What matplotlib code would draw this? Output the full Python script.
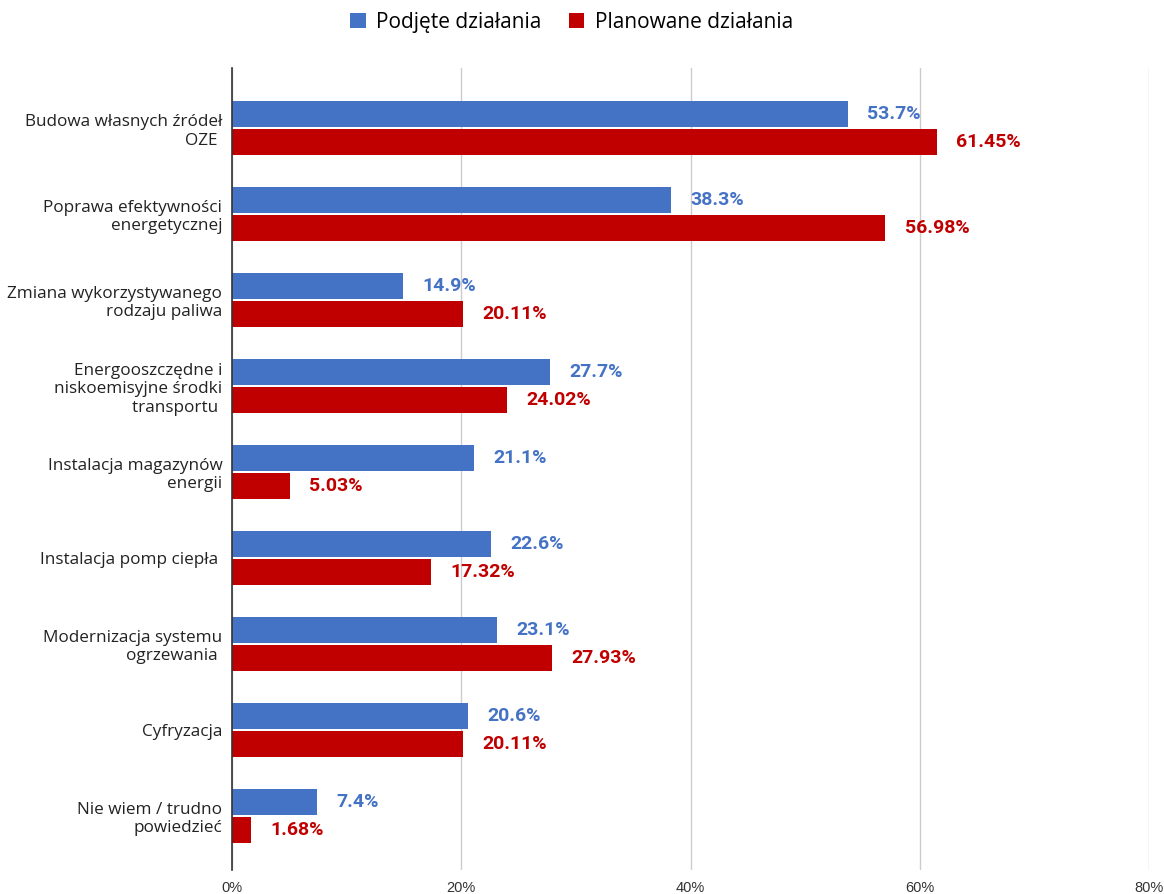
import numpy as np
import matplotlib.pyplot as plt
from matplotlib.ticker import FuncFormatter

categories = [
    "Budowa własnych źródeł\nOZE ",
    "Poprawa efektywności\nenergetycznej",
    "Zmiana wykorzystywanego\nrodzaju paliwa",
    "Energooszczędne i\nniskoemisyjne środki\ntransportu ",
    "Instalacja magazynów\nenergii",
    "Instalacja pomp ciepła ",
    "Modernizacja systemu\nogrzewania ",
    "Cyfryzacja",
    "Nie wiem / trudno\npowiedzieć",
]
podjete = [53.7, 38.3, 14.9, 27.7, 21.1, 22.6, 23.1, 20.6, 7.4]
planowane = [61.45, 56.98, 20.11, 24.02, 5.03, 17.32, 27.93, 20.11, 1.68]
podjete_txt = ["53.7%", "38.3%", "14.9%", "27.7%", "21.1%", "22.6%", "23.1%", "20.6%", "7.4%"]
planowane_txt = ["61.45%", "56.98%", "20.11%", "24.02%", "5.03%", "17.32%", "27.93%", "20.11%", "1.68%"]

blue = "#4472C4"
red = "#C00000"

fig = plt.figure(figsize=(11.64, 8.94), dpi=100)
ax = fig.add_axes([0.1993, 0.027, 0.788, 0.897])

y = np.arange(len(categories))
h = 0.30
ax.barh(y - h / 2 - 0.012, podjete, height=h, color=blue, label="Podjęte działania")
ax.barh(y + h / 2 + 0.012, planowane, height=h, color=red, label="Planowane działania")

for yi, v, t in zip(y, podjete, podjete_txt):
    ax.annotate(t, (v, yi - h / 2 - 0.012), xytext=(14, 0), textcoords="offset points",
                va="center", ha="left", color=blue, fontsize=14,
                fontweight="bold", family="Roboto")
for yi, v, t in zip(y, planowane, planowane_txt):
    ax.annotate(t, (v, yi + h / 2 + 0.012), xytext=(14, 0), textcoords="offset points",
                va="center", ha="left", color=red, fontsize=14,
                fontweight="bold", family="Roboto")

ax.set_xlim(0, 80)
ax.set_ylim(8.63, -0.70)
ax.set_xticks([0, 20, 40, 60, 80])
ax.xaxis.set_major_formatter(FuncFormatter(lambda v, p: f"{v:.0f}%"))
ax.set_yticks(y)
ax.set_yticklabels(categories, fontsize=12.3, family="Open Sans", color="#222222")
ax.tick_params(axis="y", length=0, pad=7)
ax.tick_params(axis="x", length=0, pad=8, labelsize=10.5, labelcolor="#333333")
for lbl in ax.get_xticklabels():
    lbl.set_family("Liberation Sans")

ax.grid(axis="x", color="#cccccc", linewidth=1)
ax.set_axisbelow(True)
for s in ["top", "right", "bottom"]:
    ax.spines[s].set_visible(False)
ax.spines["left"].set_color("#333333")
ax.spines["left"].set_linewidth(1.2)
ax.spines["left"].set_zorder(5)

fig.legend(loc="upper center", bbox_to_anchor=(0.491, 1.008), ncol=2, frameon=False,
           prop={"family": "Open Sans", "size": 15}, handlelength=0.75, handleheight=0.75,
           handletextpad=0.5, columnspacing=1.3)

fig.savefig("out.png", dpi=100)
